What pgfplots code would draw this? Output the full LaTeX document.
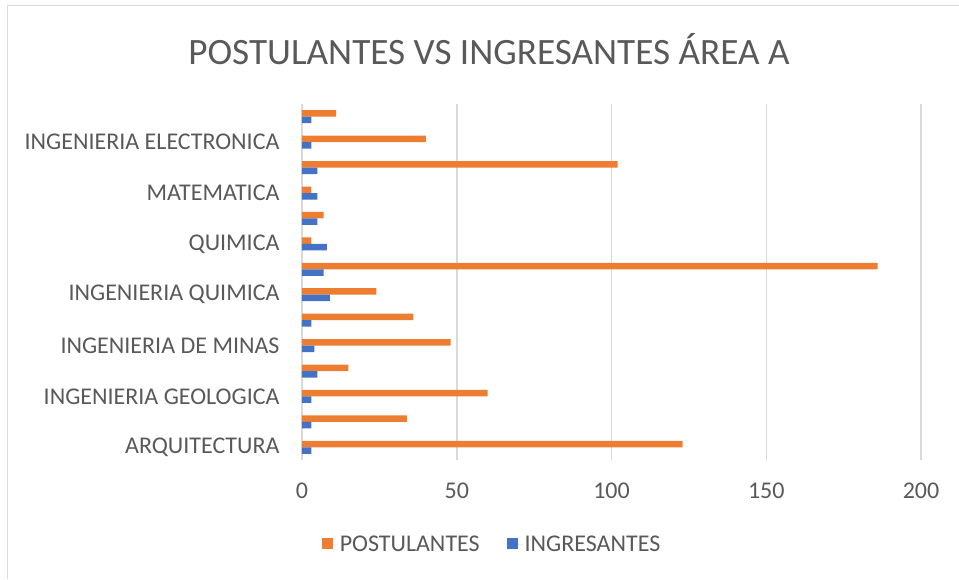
\documentclass[border=0pt]{standalone}
\usepackage{pgfplots}
\pgfplotsset{compat=1.18}
\usepackage{fontspec}
\setmainfont{Carlito}
\definecolor{txt}{HTML}{595959}
\definecolor{gridc}{HTML}{D9D9D9}
\definecolor{orng}{HTML}{ED7D31}
\definecolor{blu}{HTML}{4472C4}
\begin{document}
\begin{tikzpicture}[x=1pt,y=1pt]
\useasboundingbox (0,0) rectangle (959,579);
\draw[gridc,line width=1.5pt] (7.5,0) -- (7.5,573.5) -- (959,573.5);
\node[text=txt,font=\fontsize{37.2}{42}\selectfont] at (489,530) {POSTULANTES VS INGRESANTES ÁREA A};
\begin{axis}[
  at={(302pt,119pt)}, anchor=south west,
  scale only axis, width=619pt, height=356pt,
  xbar, bar width=6.5pt,
  xmin=0, xmax=200, ymin=0.5, ymax=14.5,
  xtick={0,50,100,150,200},
  ytick={1,3,5,7,9,11,13},
  yticklabels={ARQUITECTURA,INGENIERIA GEOLOGICA,INGENIERIA DE MINAS,INGENIERIA QUIMICA,QUIMICA,MATEMATICA,INGENIERIA ELECTRONICA},
  axis line style={draw=none},
  major tick length=0pt,
  xmajorgrids, grid style={gridc,line width=1.5pt},
  tick label style={text=txt,font=\fontsize{24}{28}\selectfont},
  /pgf/number format/assume math mode=true,
  xticklabel style={yshift=-19pt},
  yticklabel style={xshift=-19pt},
  legend style={at={(0.307,-0.236)},anchor=center,draw=none,legend columns=2,
    font=\fontsize{24}{28}\selectfont,text=txt,
    /tikz/every even column/.append style={column sep=25pt}},
  legend image code/.code={\fill[#1,draw=none] (0pt,-5pt) rectangle (11pt,6pt); \path (0pt,0pt) -- (16pt,0pt);},
]
\addplot[fill=orng,draw=none,bar shift=3.25pt] coordinates {
(123,1) (34,2) (60,3) (15,4) (48,5) (36,6) (24,7) (186,8) (3,9) (7,10) (3,11) (102,12) (40,13) (11,14)};
\addlegendentry{POSTULANTES}
\addplot[fill=blu,draw=none,bar shift=-3.25pt] coordinates {
(3,1) (3,2) (3,3) (5,4) (4,5) (3,6) (9,7) (7,8) (8,9) (5,10) (5,11) (5,12) (3,13) (3,14)};
\addlegendentry{INGRESANTES}
\end{axis}
\end{tikzpicture}
\end{document}
